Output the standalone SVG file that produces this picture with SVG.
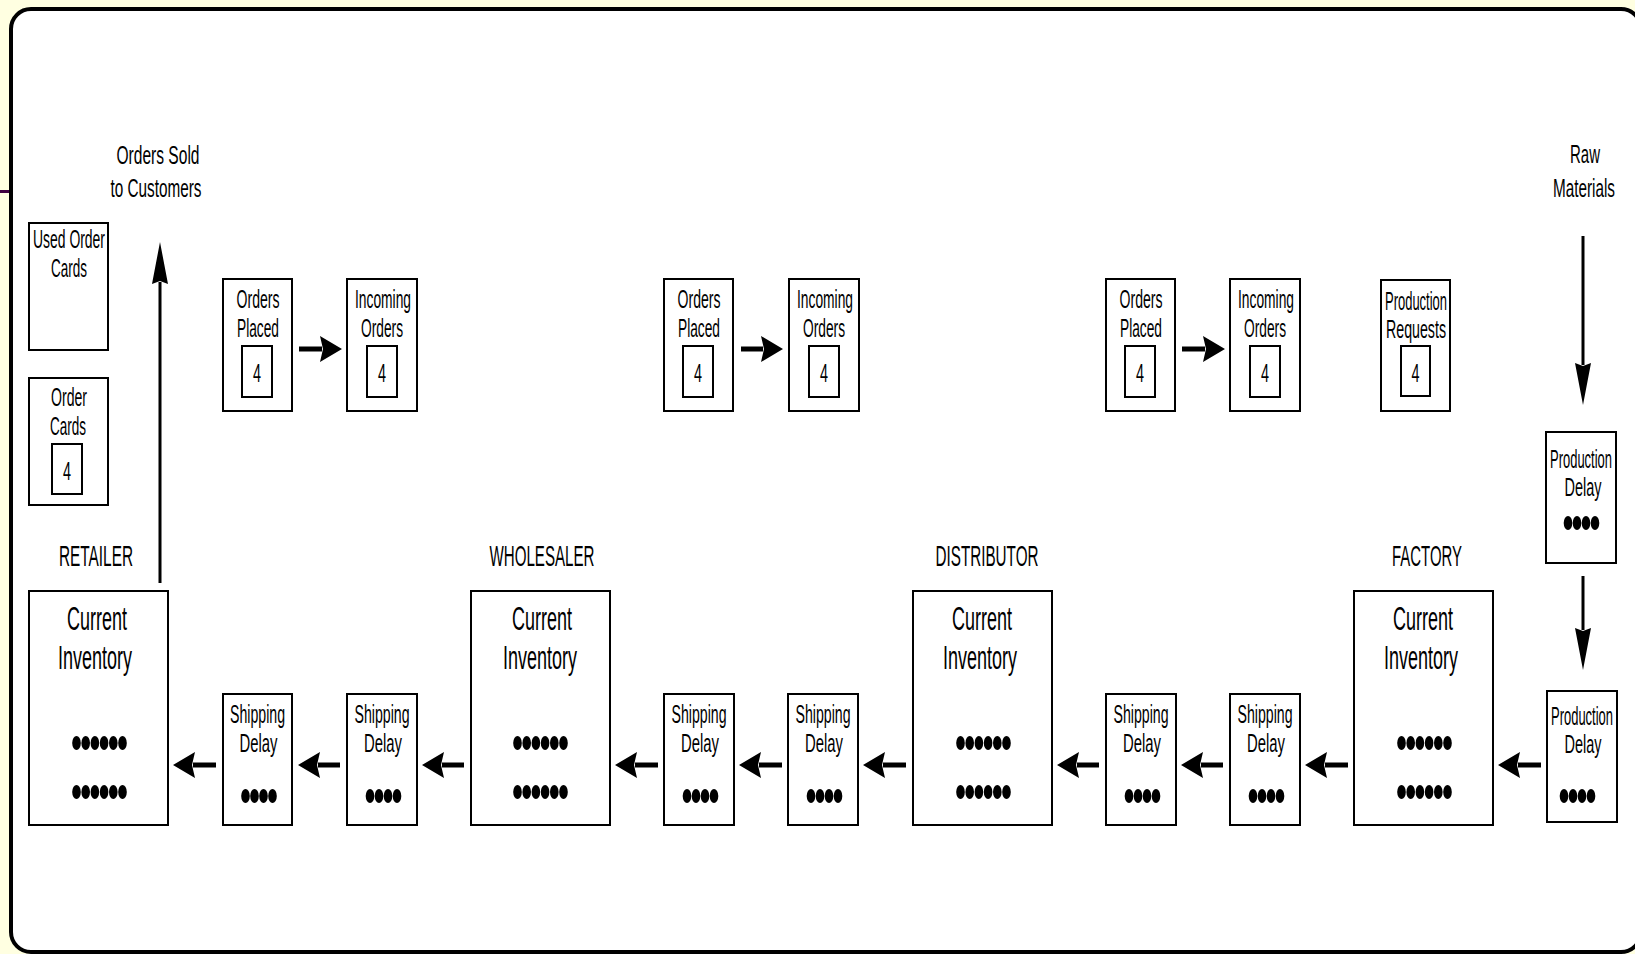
<svg xmlns="http://www.w3.org/2000/svg" width="1635" height="954" viewBox="0 0 1635 954">
<style>
.box{fill:#fff;stroke:#000;stroke-width:2}
.t{font-family:"Liberation Sans",Arial,sans-serif;fill:#000;text-anchor:middle}
.s{font-size:25px}
.l{font-size:33px}
.h{font-size:29px}
.n{font-size:26px}
.hl{stroke:#000;stroke-width:5;fill:none}
.vl{stroke:#000;stroke-width:3;fill:none}
.dot{fill:#000}
</style>
<defs>
<marker id="ah" markerUnits="userSpaceOnUse" markerWidth="24" markerHeight="28" viewBox="0 -14 24 28" refX="2" refY="0" orient="auto">
<path d="M0,-13 L22,0 L0,13 L3,0 Z" fill="#000"/>
</marker>
<marker id="av" markerUnits="userSpaceOnUse" markerWidth="44" markerHeight="18" viewBox="0 -9 44 18" refX="2" refY="0" orient="auto">
<path d="M0,-8 L42,0 L0,8 L3,0 Z" fill="#000"/>
</marker>
<g id="d4"><ellipse class="dot" cx="-13.5" cy="0" rx="4.3" ry="7"/><ellipse class="dot" cx="-4.5" cy="0" rx="4.3" ry="7"/><ellipse class="dot" cx="4.5" cy="0" rx="4.3" ry="7"/><ellipse class="dot" cx="13.5" cy="0" rx="4.3" ry="7"/></g>
<g id="d6"><ellipse class="dot" cx="-23" cy="0" rx="4.3" ry="7"/><ellipse class="dot" cx="-13.8" cy="0" rx="4.3" ry="7"/><ellipse class="dot" cx="-4.6" cy="0" rx="4.3" ry="7"/><ellipse class="dot" cx="4.6" cy="0" rx="4.3" ry="7"/><ellipse class="dot" cx="13.8" cy="0" rx="4.3" ry="7"/><ellipse class="dot" cx="23" cy="0" rx="4.3" ry="7"/></g>
</defs>
<rect x="0" y="0" width="1635" height="954" fill="#FFFFE1"/>
<rect x="0" y="190" width="10" height="3" fill="#400040"/>
<rect id="frame" x="11" y="9" width="1630" height="943" rx="20" ry="20" fill="#fff" stroke="#000" stroke-width="4"/>

<g id="label-orders-sold">
<text class="t s" x="158" y="164" textLength="83" lengthAdjust="spacingAndGlyphs">Orders Sold</text>
<text class="t s" x="156" y="197" textLength="91" lengthAdjust="spacingAndGlyphs">to Customers</text>
</g>
<g id="label-raw">
<text class="t s" x="1585" y="163" textLength="30" lengthAdjust="spacingAndGlyphs">Raw</text>
<text class="t s" x="1584" y="197" textLength="62" lengthAdjust="spacingAndGlyphs">Materials</text>
</g>

<g id="used-order-cards">
<rect class="box" x="29" y="223" width="79" height="127"/>
<text class="t s" x="69" y="248" textLength="72" lengthAdjust="spacingAndGlyphs">Used Order</text>
<text class="t s" x="69" y="277" textLength="36" lengthAdjust="spacingAndGlyphs">Cards</text>
</g>
<g id="order-cards">
<rect class="box" x="29" y="378" width="79" height="127"/>
<text class="t s" x="69" y="406" textLength="36" lengthAdjust="spacingAndGlyphs">Order</text>
<text class="t s" x="68" y="435" textLength="36" lengthAdjust="spacingAndGlyphs">Cards</text>
<rect class="box" x="52" y="444" width="30" height="50"/>
<text class="t n" x="67" y="480" textLength="8" lengthAdjust="spacingAndGlyphs">4</text>
</g>

<g id="retailer-orders-placed">
<rect class="box" x="223" y="279" width="69" height="132"/>
<text class="t s" x="258" y="308" textLength="43" lengthAdjust="spacingAndGlyphs">Orders</text>
<text class="t s" x="258" y="337" textLength="42" lengthAdjust="spacingAndGlyphs">Placed</text>
<rect class="box" x="242" y="346" width="30" height="51"/>
<text class="t n" x="257" y="382" textLength="8" lengthAdjust="spacingAndGlyphs">4</text>
</g>
<g id="wholesaler-incoming-orders">
<rect class="box" x="347" y="279" width="70" height="132"/>
<text class="t s" x="383" y="308" textLength="56" lengthAdjust="spacingAndGlyphs">Incoming</text>
<text class="t s" x="382" y="337" textLength="42" lengthAdjust="spacingAndGlyphs">Orders</text>
<rect class="box" x="367" y="346" width="30" height="51"/>
<text class="t n" x="382" y="382" textLength="8" lengthAdjust="spacingAndGlyphs">4</text>
</g>
<g id="wholesaler-orders-placed">
<rect class="box" x="664" y="279" width="69" height="132"/>
<text class="t s" x="699" y="308" textLength="43" lengthAdjust="spacingAndGlyphs">Orders</text>
<text class="t s" x="699" y="337" textLength="42" lengthAdjust="spacingAndGlyphs">Placed</text>
<rect class="box" x="683" y="346" width="30" height="51"/>
<text class="t n" x="698" y="382" textLength="8" lengthAdjust="spacingAndGlyphs">4</text>
</g>
<g id="distributor-incoming-orders">
<rect class="box" x="789" y="279" width="70" height="132"/>
<text class="t s" x="825" y="308" textLength="56" lengthAdjust="spacingAndGlyphs">Incoming</text>
<text class="t s" x="824" y="337" textLength="42" lengthAdjust="spacingAndGlyphs">Orders</text>
<rect class="box" x="809" y="346" width="30" height="51"/>
<text class="t n" x="824" y="382" textLength="8" lengthAdjust="spacingAndGlyphs">4</text>
</g>
<g id="distributor-orders-placed">
<rect class="box" x="1106" y="279" width="69" height="132"/>
<text class="t s" x="1141" y="308" textLength="43" lengthAdjust="spacingAndGlyphs">Orders</text>
<text class="t s" x="1141" y="337" textLength="42" lengthAdjust="spacingAndGlyphs">Placed</text>
<rect class="box" x="1125" y="346" width="30" height="51"/>
<text class="t n" x="1140" y="382" textLength="8" lengthAdjust="spacingAndGlyphs">4</text>
</g>
<g id="factory-incoming-orders">
<rect class="box" x="1230" y="279" width="70" height="132"/>
<text class="t s" x="1266" y="308" textLength="56" lengthAdjust="spacingAndGlyphs">Incoming</text>
<text class="t s" x="1265" y="337" textLength="42" lengthAdjust="spacingAndGlyphs">Orders</text>
<rect class="box" x="1250" y="346" width="30" height="51"/>
<text class="t n" x="1265" y="382" textLength="8" lengthAdjust="spacingAndGlyphs">4</text>
</g>
<g id="production-requests">
<rect class="box" x="1381" y="280" width="69" height="131"/>
<text class="t s" x="1416" y="310" textLength="62" lengthAdjust="spacingAndGlyphs">Production</text>
<text class="t s" x="1416" y="338" textLength="60" lengthAdjust="spacingAndGlyphs">Requests</text>
<rect class="box" x="1401" y="346" width="29" height="50"/>
<text class="t n" x="1415.5" y="382" textLength="8" lengthAdjust="spacingAndGlyphs">4</text>
</g>

<g id="production-delay-1">
<rect class="box" x="1546" y="432" width="70" height="131"/>
<text class="t s" x="1581" y="468" textLength="62" lengthAdjust="spacingAndGlyphs">Production</text>
<text class="t s" x="1583" y="496" textLength="37" lengthAdjust="spacingAndGlyphs">Delay</text>
<use href="#d4" x="1581.5" y="523"/>
</g>
<g id="production-delay-2">
<rect class="box" x="1547" y="691" width="70" height="131"/>
<text class="t s" x="1582" y="725" textLength="62" lengthAdjust="spacingAndGlyphs">Production</text>
<text class="t s" x="1583" y="753" textLength="37" lengthAdjust="spacingAndGlyphs">Delay</text>
<use href="#d4" x="1577.5" y="796"/>
</g>

<g id="retailer">
<text class="t h" x="96" y="566" textLength="74" lengthAdjust="spacingAndGlyphs">RETAILER</text>
<rect class="box" x="29" y="591" width="139" height="234"/>
<text class="t l" x="97" y="630" textLength="60" lengthAdjust="spacingAndGlyphs">Current</text>
<text class="t l" x="95" y="669" textLength="74" lengthAdjust="spacingAndGlyphs">Inventory</text>
<use href="#d6" x="99.5" y="743"/>
<use href="#d6" x="99.5" y="792"/>
</g>
<g id="wholesaler">
<text class="t h" x="542" y="566" textLength="105" lengthAdjust="spacingAndGlyphs">WHOLESALER</text>
<rect class="box" x="471" y="591" width="139" height="234"/>
<text class="t l" x="542" y="630" textLength="60" lengthAdjust="spacingAndGlyphs">Current</text>
<text class="t l" x="540" y="669" textLength="74" lengthAdjust="spacingAndGlyphs">Inventory</text>
<use href="#d6" x="540.5" y="743"/>
<use href="#d6" x="540.5" y="792"/>
</g>
<g id="distributor">
<text class="t h" x="987" y="566" textLength="103" lengthAdjust="spacingAndGlyphs">DISTRIBUTOR</text>
<rect class="box" x="913" y="591" width="139" height="234"/>
<text class="t l" x="982" y="630" textLength="60" lengthAdjust="spacingAndGlyphs">Current</text>
<text class="t l" x="980" y="669" textLength="74" lengthAdjust="spacingAndGlyphs">Inventory</text>
<use href="#d6" x="983.5" y="743"/>
<use href="#d6" x="983.5" y="792"/>
</g>
<g id="factory">
<text class="t h" x="1427" y="566" textLength="70" lengthAdjust="spacingAndGlyphs">FACTORY</text>
<rect class="box" x="1354" y="591" width="139" height="234"/>
<text class="t l" x="1423" y="630" textLength="60" lengthAdjust="spacingAndGlyphs">Current</text>
<text class="t l" x="1421" y="669" textLength="74" lengthAdjust="spacingAndGlyphs">Inventory</text>
<use href="#d6" x="1424.5" y="743"/>
<use href="#d6" x="1424.5" y="792"/>
</g>

<g id="shipping-delay-1">
<rect class="box" x="223" y="694" width="69" height="131"/>
<text class="t s" x="257.5" y="723" textLength="55" lengthAdjust="spacingAndGlyphs">Shipping</text>
<text class="t s" x="258.5" y="752" textLength="38" lengthAdjust="spacingAndGlyphs">Delay</text>
<use href="#d4" x="259" y="796"/>
</g>
<g id="shipping-delay-2">
<rect class="box" x="347" y="694" width="70" height="131"/>
<text class="t s" x="382" y="723" textLength="55" lengthAdjust="spacingAndGlyphs">Shipping</text>
<text class="t s" x="383" y="752" textLength="38" lengthAdjust="spacingAndGlyphs">Delay</text>
<use href="#d4" x="383.5" y="796"/>
</g>
<g id="shipping-delay-3">
<rect class="box" x="664" y="694" width="70" height="131"/>
<text class="t s" x="699" y="723" textLength="55" lengthAdjust="spacingAndGlyphs">Shipping</text>
<text class="t s" x="700" y="752" textLength="38" lengthAdjust="spacingAndGlyphs">Delay</text>
<use href="#d4" x="700.5" y="796"/>
</g>
<g id="shipping-delay-4">
<rect class="box" x="788" y="694" width="70" height="131"/>
<text class="t s" x="823" y="723" textLength="55" lengthAdjust="spacingAndGlyphs">Shipping</text>
<text class="t s" x="824" y="752" textLength="38" lengthAdjust="spacingAndGlyphs">Delay</text>
<use href="#d4" x="824.5" y="796"/>
</g>
<g id="shipping-delay-5">
<rect class="box" x="1106" y="694" width="70" height="131"/>
<text class="t s" x="1141" y="723" textLength="55" lengthAdjust="spacingAndGlyphs">Shipping</text>
<text class="t s" x="1142" y="752" textLength="38" lengthAdjust="spacingAndGlyphs">Delay</text>
<use href="#d4" x="1142.5" y="796"/>
</g>
<g id="shipping-delay-6">
<rect class="box" x="1230" y="694" width="70" height="131"/>
<text class="t s" x="1265" y="723" textLength="55" lengthAdjust="spacingAndGlyphs">Shipping</text>
<text class="t s" x="1266" y="752" textLength="38" lengthAdjust="spacingAndGlyphs">Delay</text>
<use href="#d4" x="1266.5" y="796"/>
</g>

<g id="connectors">
<line class="vl" x1="160" y1="583" x2="160" y2="282" marker-end="url(#av)"/>
<line class="vl" x1="1583" y1="236" x2="1583" y2="365" marker-end="url(#av)"/>
<line class="vl" x1="1583" y1="576" x2="1583" y2="630" marker-end="url(#av)"/>
<line class="hl" x1="299" y1="349" x2="322" y2="349" marker-end="url(#ah)"/>
<line class="hl" x1="741" y1="349" x2="763" y2="349" marker-end="url(#ah)"/>
<line class="hl" x1="1182" y1="349" x2="1205" y2="349" marker-end="url(#ah)"/>
<line class="hl" x1="216" y1="765" x2="193" y2="765" marker-end="url(#ah)"/>
<line class="hl" x1="340" y1="765" x2="318" y2="765" marker-end="url(#ah)"/>
<line class="hl" x1="464" y1="765" x2="442" y2="765" marker-end="url(#ah)"/>
<line class="hl" x1="658" y1="765" x2="635" y2="765" marker-end="url(#ah)"/>
<line class="hl" x1="782" y1="765" x2="759" y2="765" marker-end="url(#ah)"/>
<line class="hl" x1="906" y1="765" x2="883" y2="765" marker-end="url(#ah)"/>
<line class="hl" x1="1099" y1="765" x2="1077" y2="765" marker-end="url(#ah)"/>
<line class="hl" x1="1223" y1="765" x2="1201" y2="765" marker-end="url(#ah)"/>
<line class="hl" x1="1348" y1="765" x2="1325" y2="765" marker-end="url(#ah)"/>
<line class="hl" x1="1541" y1="765" x2="1518" y2="765" marker-end="url(#ah)"/>
</g>
</svg>
